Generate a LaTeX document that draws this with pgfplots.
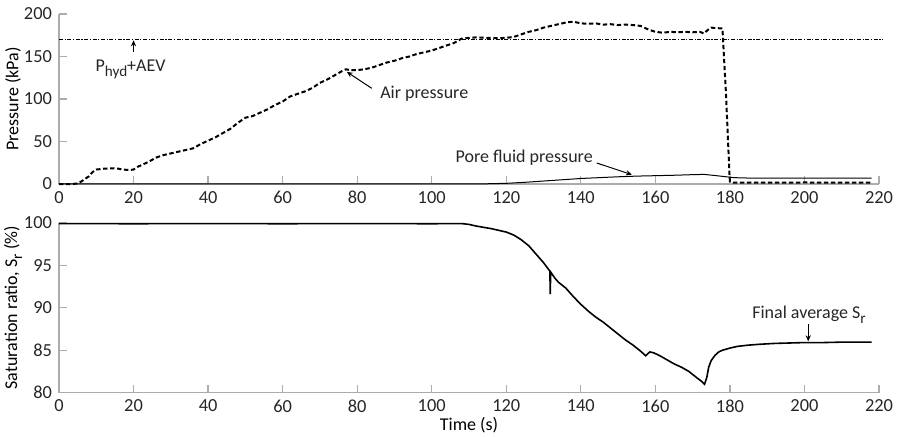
\documentclass[border=0pt]{standalone}
\usepackage{fontspec}
\setmainfont{Carlito}
\usepackage{pgfplots}
\pgfplotsset{compat=1.18}
\usetikzlibrary{arrows.meta}
\newcommand{\sub}[1]{\raisebox{-0.6ex}{\fontsize{7.6}{8}\selectfont #1}}
\pgfplotsset{myax/.style={
  scale only axis, width=410pt, height=85pt,
  xmin=0, xmax=220, xtick={0,20,...,220},
  axis lines=left, axis line style={-, gray!65, line width=0.6pt},
  tick align=inside, tick style={gray!65, line width=0.6pt}, major tick length=4pt,
  tick label style={font=\fontsize{9.2}{11}\selectfont, text=black!85},
  /pgf/number format/assume math mode=true,
  label style={font=\fontsize{9}{10.8}\selectfont, text=black!85},
  every axis y label/.style={at={(axis description cs:-0.056,0.5)}, rotate=90, anchor=center},
  clip=false,
}}
\begin{document}
\begin{tikzpicture}[font=\fontsize{9}{10.8}\selectfont]
\useasboundingbox (0,0) rectangle (448.5pt,-218pt);
% ---------- top: pressures ----------
\begin{axis}[myax, at={(29.5pt,-92pt)}, anchor=south west,
  ymin=0, ymax=200, ytick={0,50,...,200}, ylabel={Pressure (kPa)}]
% P_hyd + AEV
\addplot[black, line width=0.6pt, dash pattern=on 2pt off 0.8pt on 0.6pt off 0.8pt] coordinates {(0,170) (221,170)};
% air pressure
\addplot[black, line width=1pt, dash pattern=on 2.2pt off 1.3pt] coordinates {
(0,0) (3,0) (5,0.5) (6,3) (7,6) (8,9) (9,14) (10,17) (12,18) (14,18.5) (16,18) (17,17) (19,16.5) (20,17)
(21,20) (22,22) (24,26) (26,31) (28,34) (30,36) (32,38) (34,40) (36,42) (38,47) (40,51) (42,55)
(44,60) (46,65) (48,72) (50,78) (52,80) (54,84) (56,88) (58,93) (60,97) (62,103) (64,106) (66,109)
(68,113) (70,119) (72,123) (74,128) (76,133) (77,135) (78,134) (80,134) (82,135) (84,137) (86,140)
(88,143) (90,145) (92,148) (94,150) (96,153) (98,155) (100,157) (102,160) (104,163) (106,166)
(108,171) (110,172) (112,172.5) (115,172) (118,171.5) (120,172) (122,173) (124,176) (126,179)
(128,181) (130,184) (132,186) (134,188) (136,190) (138,191) (140,189) (142,188.5) (144,189)
(146,187.5) (148,188) (150,187) (152,187.5) (154,187) (156,186) (158,182) (160,179) (162,178)
(164,179) (166,178.5) (168,179) (170,178.5) (172,179) (173,177) (174,181) (175,184) (176,183.5)
(178,183) (178.4,150) (178.9,110) (179.4,60) (179.9,10) (180,3) (181,1.5) (190,1.5) (200,1.8) (210,1.5) (218,1.5)};
% pore fluid pressure
\addplot[black, line width=0.5pt] coordinates {
(0,0.3) (115,0.3) (120,0.8) (125,2) (130,3.5) (135,5) (140,6.5) (145,7.5) (150,8.5) (155,9.3)
(160,9.8) (165,10.3) (170,11) (173,11.3) (176,10) (179,8.5) (181,7.5) (185,7) (218,7)};
\node[anchor=base west, inner sep=0, text=black!85] at (axis cs:9.7,132) {P\sub{hyd}+AEV};
\draw[-{Stealth[length=3pt,width=2.6pt]}, line width=0.5pt] (axis cs:20,155) -- (axis cs:20,169);
\node[anchor=base west, inner sep=0, text=black!85] at (axis cs:86.1,101) {Air pressure};
\draw[-{Stealth[length=3pt,width=2.6pt]}, line width=0.5pt] (axis cs:83.9,112.6) -- (axis cs:77.2,132);
\node[anchor=base west, inner sep=0, text=black!85] at (axis cs:106.3,25) {Pore fluid pressure};
\draw[-{Stealth[length=3pt,width=2.6pt]}, line width=0.5pt] (axis cs:144.3,24.7) -- (axis cs:153.7,11);
\end{axis}
% ---------- bottom: saturation ----------
\begin{axis}[myax, at={(29.5pt,-196.35pt)}, anchor=south west,
  ymin=80, ymax=100, ytick={80,85,...,100}, ylabel={Saturation ratio, S\sub{r} (\%)},
  xlabel={Time (s)}, every axis x label/.style={at={(axis description cs:0.5,-0.19)}, anchor=center}]
\addplot[black, line width=0.8pt] coordinates {
(0,99.9) (20,99.88) (40,99.9) (60,99.88) (80,99.9) (100,99.88) (108,99.9) (110,99.8) (112,99.6)
(114,99.45) (116,99.3) (118,99.1) (120,98.9) (122,98.55) (124,98) (126,97.3) (128,96.3) (130,95.3)
(131.7,94.3) (131.8,91.6) (131.9,94.2) (133,93.5) (134,93) (136,92.3) (138,91.3) (140,90.4)
(142,89.6) (144,88.9) (146,88.3) (148,87.6) (150,86.9) (152,86.2) (154,85.6) (156,84.9)
(157.4,84.35) (158.5,84.8) (159.5,84.7) (161,84.4) (163,83.9) (165,83.4) (167,83) (169,82.5)
(171,81.8) (172.5,81.3) (173.2,81) (173.8,81.8) (174.3,83) (175,83.8) (176,84.4) (177,84.8)
(178,85) (180,85.25) (182,85.45) (185,85.6) (188,85.7) (192,85.8) (196,85.85) (200,85.9)
(205,85.9) (210,85.95) (218,85.95)};
\node[anchor=base west, inner sep=0, text=black!85] at (axis cs:185.9,88.75) {Final average S\sub{r}};
\draw[-{Stealth[length=3pt,width=2.6pt]}, line width=0.5pt] (axis cs:201,88.1) -- (axis cs:201,86.05);
\end{axis}
\end{tikzpicture}
\end{document}
